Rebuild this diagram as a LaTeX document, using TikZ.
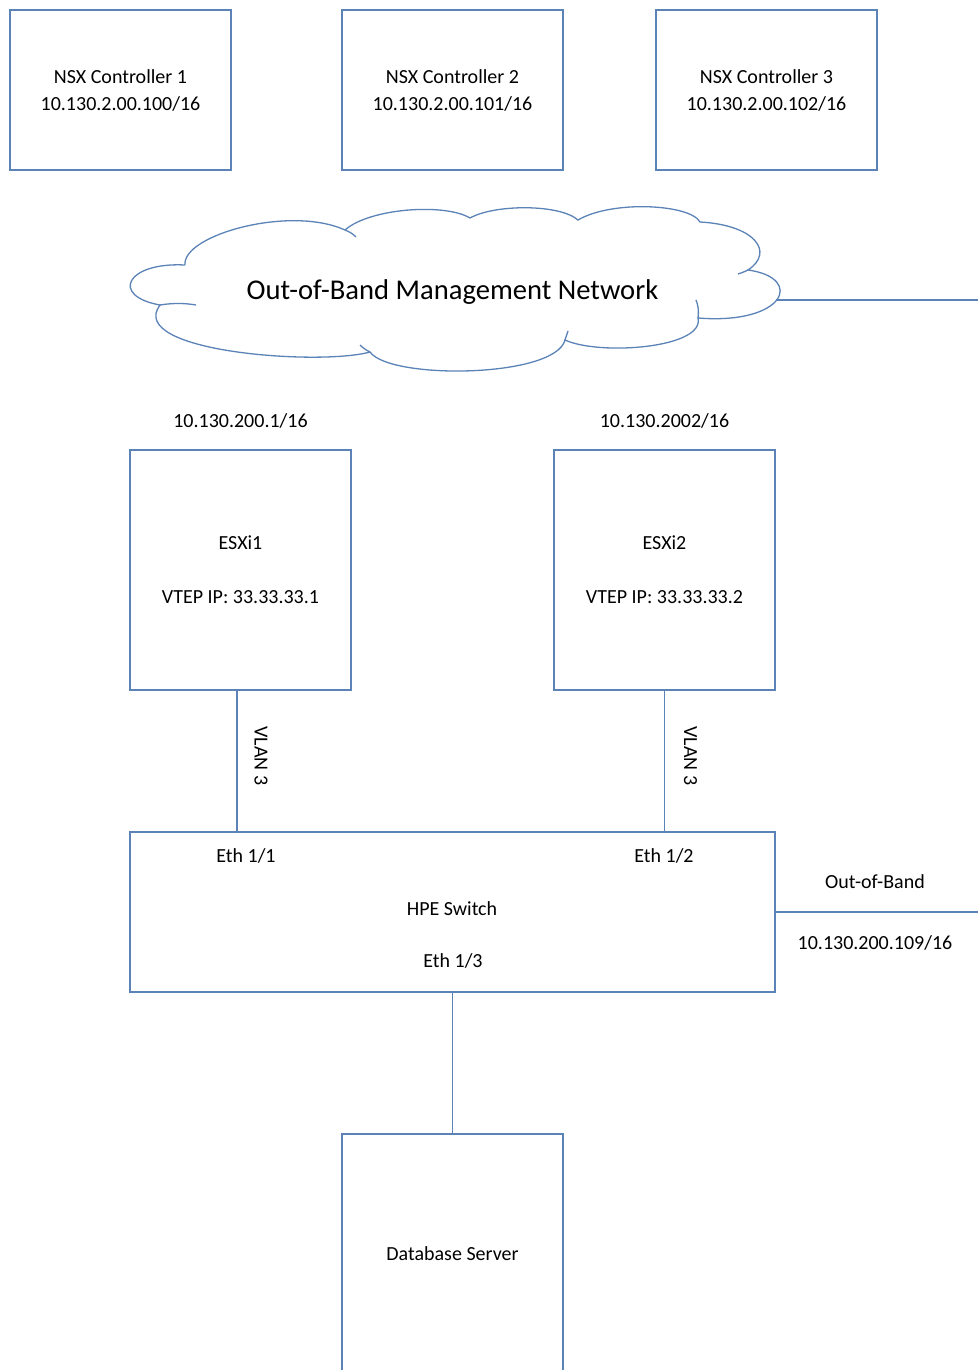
\documentclass[tikz,border=0pt]{standalone}
\usepackage{fontspec}
\setmainfont{Carlito}
\definecolor{edgeblue}{RGB}{91,131,184}
\newcommand\dfont{\fontsize{20}{27}\selectfont}
\newcommand\cfont{\fontsize{28.6}{32}\selectfont}
\begin{document}
\begin{tikzpicture}[x=1pt,y=-1pt,
  box/.style={draw=edgeblue, line width=1.3pt, minimum width=221pt, inner sep=0pt, align=center, font=\dfont},
  lbl/.style={font=\dfont, inner sep=0pt, anchor=base},
  wire/.style={draw=edgeblue, line width=1.3pt}]
\clip (0,0) rectangle (978,1370);
\fill[white] (0,0) rectangle (978,1370);

% NSX controllers
\node[box, minimum height=160pt] (nsx1) at (120.5,90) {NSX Controller 1\\10.130.2.00.100/16};
\node[box, minimum height=160pt] (nsx2) at (452.5,90) {NSX Controller 2\\10.130.2.00.101/16};
\node[box, minimum height=160pt] (nsx3) at (766.5,90) {NSX Controller 3\\10.130.2.00.102/16};

% Cloud
\draw[edgeblue, line width=1.3pt]
  (185,265) .. controls (182,235) and (290,205) .. (345,230)
  .. controls (370,208) and (445,203) .. (470,218)
  .. controls (495,204) and (560,204) .. (578,220)
  .. controls (612,200) and (690,204) .. (700,222)
  .. controls (755,225) and (775,252) .. (748,270)
  .. controls (805,278) and (785,325) .. (698,318)
  .. controls (705,348) and (600,356) .. (565,340)
  .. controls (555,378) and (390,380) .. (370,352)
  .. controls (320,366) and (125,352) .. (160,305)
  .. controls (110,296) and (126,262) .. (185,265);
% cloud inner tails
\draw[edgeblue, line width=1.3pt]
  (345,230) .. controls (350,232) and (353,234) .. (356,237);
\draw[edgeblue, line width=1.3pt]
  (160,305) .. controls (172,303) and (185,303) .. (196,305);
\draw[edgeblue, line width=1.3pt]
  (748,270) .. controls (744,272) and (741,273) .. (738,274);
\draw[edgeblue, line width=1.3pt]
  (698,318) .. controls (699,310) and (698,305) .. (696,300);
\draw[edgeblue, line width=1.3pt]
  (565,340) .. controls (566,337) and (567,334) .. (568,331);
\draw[edgeblue, line width=1.3pt]
  (370,352) .. controls (366,350) and (363,348) .. (360,345);
\node[font=\cfont, inner sep=0pt, anchor=base] (cloudtxt) at (452.5,299) {Out-of-Band Management Network};
\coordinate (cloudE) at (776,300);
\coordinate (oobTop) at (978,300);
\draw[wire] (cloudE) -- (oobTop);

% ESXi hosts
\node[lbl] (ip1) at (240.5,427) {10.130.200.1/16};
\node[lbl] (ip2) at (664.5,427) {10.130.2002/16};
\node[box, minimum height=240pt] (esx1) at (240.5,570) {ESXi1\\[27pt]VTEP IP: 33.33.33.1};
\node[box, minimum height=240pt] (esx2) at (664.5,570) {ESXi2\\[27pt]VTEP IP: 33.33.33.2};

% Switch
\node[draw=edgeblue, line width=1.3pt, minimum width=645pt, minimum height=160pt, inner sep=0pt] (sw) at (452.5,912) {};
\node[lbl] (e11) at (246,862) {Eth 1/1};
\node[lbl] (e12) at (664,862) {Eth 1/2};
\node[lbl] (hpe) at (452,915) {HPE Switch};
\node[lbl] (e13) at (453,967) {Eth 1/3};

% ESXi to switch
\draw[wire] ([xshift=-3.5pt]esx1.south) -- ([xshift=-3.5pt]esx1.south |- sw.north)
  node[midway, xshift=24pt, yshift=5pt, rotate=-90, anchor=center, font=\dfont, inner sep=0pt] (vl1) {VLAN 3};
\draw[wire] (esx2.south) -- (esx2.south |- sw.north)
  node[midway, xshift=26pt, yshift=5pt, rotate=-90, anchor=center, font=\dfont, inner sep=0pt] (vl2) {VLAN 3};

% switch out-of-band
\coordinate (oobBot) at (978,912);
\draw[wire] (sw.east) -- (oobBot);
\node[lbl] (oob) at (875,888) {Out-of-Band};
\node[lbl] (oobip) at (875,949) {10.130.200.109/16};

% Database server
\node[box, minimum height=240pt] (db) at (452.5,1254) {Database Server};
\draw[wire] (sw.south) -- (db.north);
\end{tikzpicture}
\end{document}
